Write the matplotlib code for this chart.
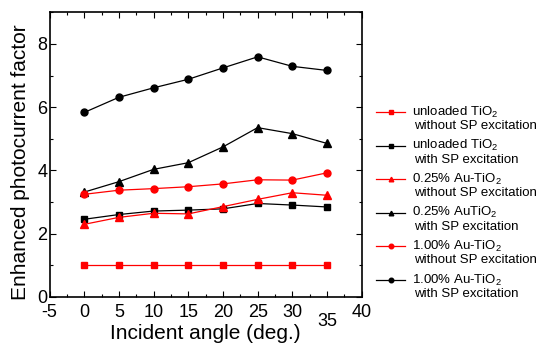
import matplotlib
matplotlib.use("Agg")
import matplotlib.pyplot as plt
from matplotlib.lines import Line2D
from matplotlib.ticker import MultipleLocator

plt.rcParams["font.family"] = ["Liberation Sans", "DejaVu Sans"]
plt.rcParams["mathtext.fontset"] = "custom"
plt.rcParams["mathtext.rm"] = "Liberation Sans"
plt.rcParams["mathtext.default"] = "regular"
plt.rcParams["axes.unicode_minus"] = False

# === data ===
angles = [0, 5, 10, 15, 20, 25, 30, 35]
unloaded_without = [1.0, 1.0, 1.0, 1.0, 1.0, 1.0, 1.0, 1.0]
unloaded_with = [2.45, 2.60, 2.71, 2.74, 2.78, 2.95, 2.90, 2.84]
au025_without = [2.29, 2.51, 2.64, 2.62, 2.85, 3.08, 3.29, 3.21]
au025_with = [3.31, 3.64, 4.03, 4.24, 4.74, 5.35, 5.16, 4.85]
au100_without = [3.24, 3.37, 3.42, 3.48, 3.57, 3.70, 3.69, 3.92]
au100_with = [5.83, 6.31, 6.61, 6.88, 7.24, 7.59, 7.29, 7.16]

labels = [
    ("unloaded TiO$_2$", "without SP excitation"),
    ("unloaded TiO$_2$", "with SP excitation"),
    ("0.25% Au-TiO$_2$", "without SP excitation"),
    ("0.25% AuTiO$_2$", "with SP excitation"),
    ("1.00% Au-TiO$_2$", "without SP excitation"),
    ("1.00% Au-TiO$_2$", "with SP excitation"),
]
series = [unloaded_without, unloaded_with, au025_without,
          au025_with, au100_without, au100_with]
colors = ["red", "black", "red", "black", "red", "black"]
markers = ["s", "s", "^", "^", "o", "o"]
msizes = [4.5, 4.5, 5.5, 5.5, 5.0, 5.0]

W, H = 536, 343
fig = plt.figure(figsize=(W / 100, H / 100), dpi=100)
ax = fig.add_axes([49.5 / W, 1 - 296.7 / H, 312.2 / W, 284.4 / H])

for y, c, m, ms in zip(series, colors, markers, msizes):
    ax.plot(angles, y, color=c, marker=m, markersize=ms, linewidth=0.9)

ax.set_xlim(-5, 40)
ax.set_ylim(0, 9)
ax.set_xticks([-5, 0, 5, 10, 15, 20, 25, 30, 35, 40])
ax.set_yticks([0, 2, 4, 6, 8])
ax.xaxis.set_minor_locator(MultipleLocator(2.5))
ax.yaxis.set_minor_locator(MultipleLocator(1))
ax.tick_params(which="both", direction="in", top=True, right=True, width=0.8)
ax.tick_params(which="major", length=4)
ax.tick_params(which="minor", length=2.2)
ax.tick_params(axis="x", labelsize=13, pad=5.5)
ax.tick_params(axis="y", labelsize=13, pad=1.5)
for s in ax.spines.values():
    s.set_linewidth(1.2)

# the "35" label sits lower in the original
ax.xaxis.get_major_ticks()[8].set_pad(11.5)

ax.set_xlabel("Incident angle (deg.)", fontsize=15)
ax.xaxis.set_label_coords(0.5, -0.096)
ax.set_ylabel("Enhanced photocurrent factor", fontsize=15)
ax.yaxis.set_label_coords(-0.0625, 0.472)

# hand-built legend outside the axes
for i, ((l1, l2), c, m) in enumerate(zip(labels, colors, markers)):
    py = 112 + i * 33.6
    fy = 1 - py / H
    fig.add_artist(Line2D([376 / W, 405 / W], [fy, fy], color=c, linewidth=0.9,
                          transform=fig.transFigure))
    fig.add_artist(Line2D([390.5 / W], [fy], color=c, marker=m, markersize=3.3,
                          transform=fig.transFigure))
    fig.text(412 / W, fy, l1, fontsize=9.5, va="center", ha="left")
    fig.text(414 / W, 1 - (py + 14) / H, l2, fontsize=9.5, va="center", ha="left")

fig.savefig("out.png", dpi=100)
